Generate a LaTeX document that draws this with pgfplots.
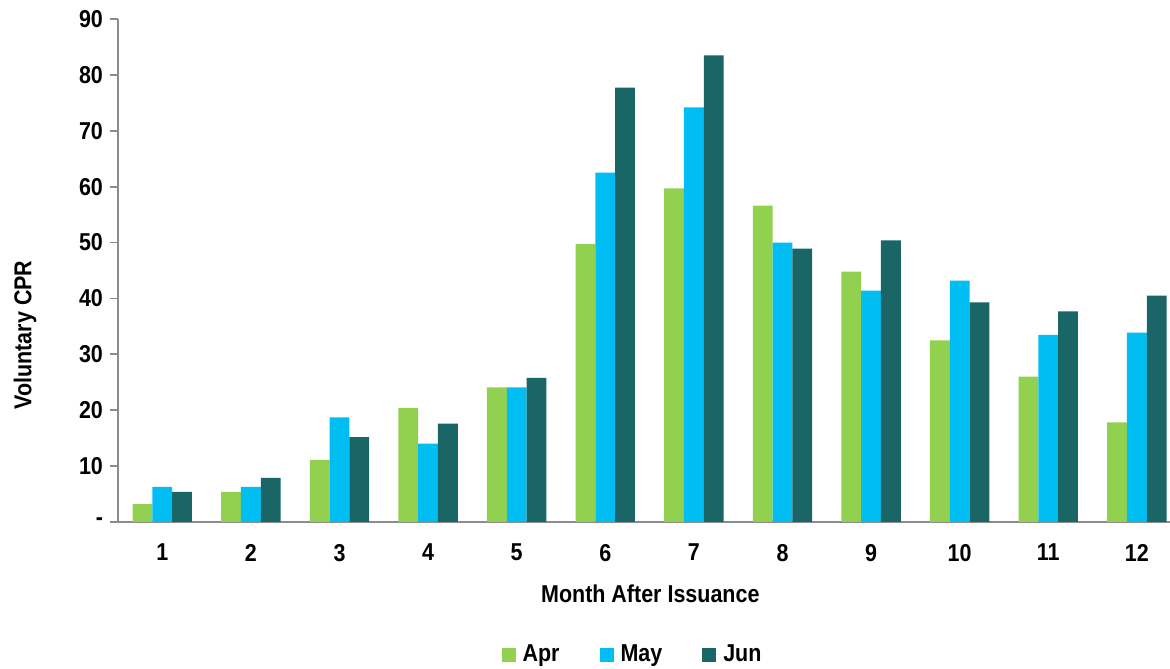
\documentclass[border=0pt]{standalone}
\usepackage{fontspec}
\setmainfont{Liberation Sans}[FakeStretch=0.88]
\usepackage{pgfplots}
\pgfplotsset{compat=1.18}
\definecolor{cApr}{RGB}{146,208,80}
\definecolor{cMay}{RGB}{0,189,242}
\definecolor{cJun}{RGB}{26,102,102}
\definecolor{axgray}{RGB}{140,140,140}
\newcommand{\lblfont}{\bfseries\fontsize{12.2}{14.6}\selectfont}
\begin{document}
\begin{tikzpicture}
\begin{axis}[
  scale only axis, width=526pt, height=251.5pt,
  xmin=0.5, xmax=12.374, ymin=0, ymax=90,
  axis x line=bottom, axis y line=left,
  axis line style={draw=axgray, line width=0.9pt, -},
  ybar, bar width=9.9pt,
  xtick={1,2,3,4,5,6,7,8,9,10,11,12},
  xticklabels={1,2,3,4,5,6,7,8,9,10,11,12},
  xtick style={draw=none},
  extra x ticks={0.5,1.5,2.5,3.5,4.5,5.5,6.5,7.5,8.5,9.5,10.5,11.5},
  extra x tick labels={},
  extra x tick style={tick style={draw=axgray, line width=0.9pt}},
  ytick={0,10,20,30,40,50,60,70,80,90},
  yticklabels={-,10,20,30,40,50,60,70,80,90},
  ytick style={draw=axgray, line width=0.9pt},
  tick align=outside, major tick length=4pt,
  tick label style={font=\lblfont},
  xticklabel style={yshift=-3.5pt},
  xlabel={Month After Issuance}, ylabel={Voluntary CPR},
  label style={font=\lblfont},
  xlabel style={at={(rel axis cs:0.506,-0.143)}, anchor=center},
  ylabel style={at={(rel axis cs:-0.0884,0.372)}, anchor=center},
  legend columns=3,
  legend style={at={(rel axis cs:0.4900,-0.264)}, anchor=center, draw=none, font=\lblfont,
    /tikz/every even column/.append style={column sep=18pt}},
  legend image code/.code={\fill[#1] (0pt,-3.4pt) rectangle (7pt,3.4pt); \path (0pt,0pt) -- (8.5pt,0pt);},
]
\addplot[fill=cApr, draw=none, bar shift=-9.9pt] coordinates {
 (1,3.2) (2,5.4) (3,11.1) (4,20.4) (5,24.1) (6,49.7) (7,59.7) (8,56.6) (9,44.8) (10,32.5) (11,26.0) (12,17.8)};
\addplot[fill=cMay, draw=none, bar shift=0pt] coordinates {
 (1,6.3) (2,6.3) (3,18.7) (4,14.0) (5,24.1) (6,62.5) (7,74.2) (8,50.0) (9,41.4) (10,43.2) (11,33.5) (12,33.9)};
\addplot[fill=cJun, draw=none, bar shift=9.9pt] coordinates {
 (1,5.4) (2,7.9) (3,15.2) (4,17.6) (5,25.8) (6,77.7) (7,83.5) (8,48.9) (9,50.4) (10,39.3) (11,37.7) (12,40.5)};
\legend{Apr,May,Jun}
\coordinate (sw) at (rel axis cs:0,0);
\coordinate (ne) at (rel axis cs:1,1);
\end{axis}
\pgfresetboundingbox
\useasboundingbox ([xshift=-59pt,yshift=-73.5pt]sw) rectangle ([yshift=9.5pt]ne);
\end{tikzpicture}
\end{document}
